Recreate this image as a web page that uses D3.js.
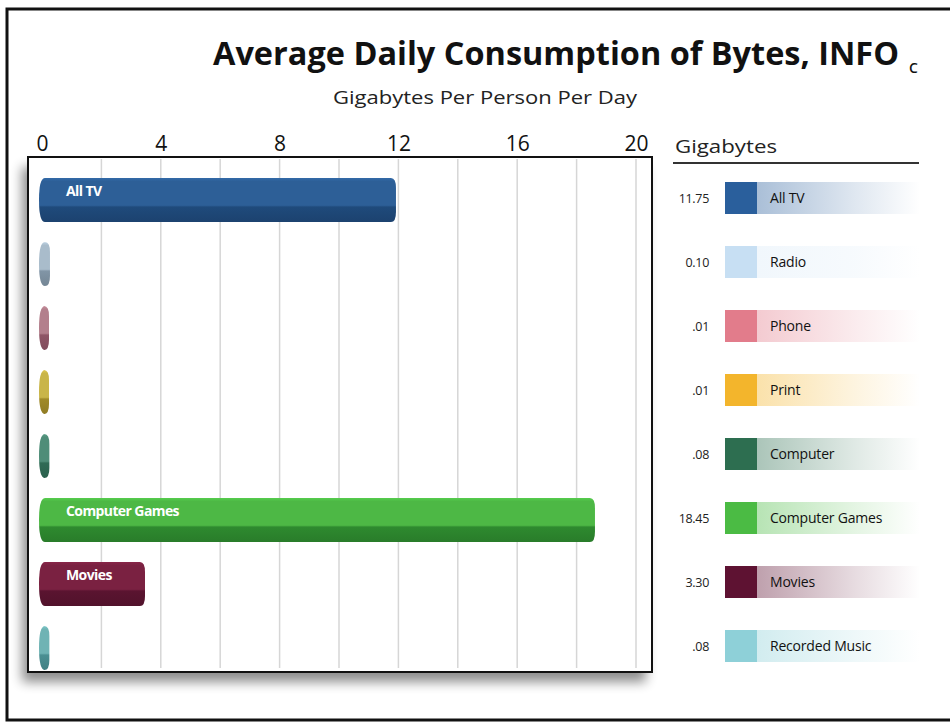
<!DOCTYPE html>
<html><head><meta charset="utf-8">
<script src="https://cdn.jsdelivr.net/npm/d3@7"></script>
<style>
html,body{margin:0;padding:0;background:#fff;}
svg{display:block;}
text{font-family:"Open Sans","Noto Sans",sans-serif;}
</style></head>
<body>
<script>
// ---- data ----
const categories = ["All TV","Radio","Phone","Print","Computer","Computer Games","Movies","Recorded Music"];
const values = [11.75, 0.10, 0.01, 0.01, 0.08, 18.45, 3.30, 0.08];
const valueLabels = ["11.75","0.10",".01",".01",".08","18.45","3.30",".08"];
const tickValues = [0,4,8,12,16,20];
const gridValues = [2,4,6,8,10,12,14,16,18,20];
const barLabels = ["All TV","","","","","Computer Games","Movies",""];
const swatchColors = ["#2a5f9c","#c7dff3","#e27c8b","#f3b52c","#2d6e50","#4bbb44","#5e1232","#8ed0d8"];
const barTop = ["#2d5f97","#a9bccb","#b37f8c","#c9b548","#4f8d78","#4db845","#7a2141","#6fb3b4"];
const barBottom = ["#1f4a7b","#8195a6","#8f5566","#a08a28","#2f6b55","#2e8a2f","#5a1430","#4a8f92"];

const W = 950, H = 725;
const svg = d3.select("body").append("svg").attr("width", W).attr("height", H);
const defs = svg.append("defs");

// outer frame
svg.append("rect").attr("x",7).attr("y",9).attr("width",980).attr("height",711)
  .attr("fill","#fff").attr("stroke","#111").attr("stroke-width",3);

// title
svg.append("text").attr("x",213).attr("y",65)
  .attr("font-size",32).attr("font-weight",700).attr("fill","#111")
  .attr("textLength",686).attr("lengthAdjust","spacingAndGlyphs")
  .text("Average Daily Consumption of Bytes, INFO");
svg.append("text").attr("x",909).attr("y",73).attr("font-size",14).attr("font-weight",600).attr("fill","#111").text("C");
svg.append("text").attr("x",333).attr("y",104)
  .attr("font-size",18).attr("fill","#222")
  .attr("textLength",304).attr("lengthAdjust","spacingAndGlyphs")
  .text("Gigabytes Per Person Per Day");

// scales
const x = d3.scaleLinear().domain([0,20]).range([42,636]);
const y = d3.scaleBand().domain(categories).range([168,680]).padding(0);
const box = {x0:28, y0:157, x1:652, y1:672};

// shadow filter
const f = defs.append("filter").attr("id","sh").attr("x","-10%").attr("y","-10%").attr("width","130%").attr("height","130%");
f.append("feGaussianBlur").attr("in","SourceAlpha").attr("stdDeviation",6);
f.append("feOffset").attr("dx",-6).attr("dy",10).attr("result","o");
f.append("feComponentTransfer").append("feFuncA").attr("type","linear").attr("slope",0.45);
const fm = f.append("feMerge"); fm.append("feMergeNode"); fm.append("feMergeNode").attr("in","SourceGraphic");

svg.append("rect").attr("x",box.x0).attr("y",box.y0).attr("width",box.x1-box.x0).attr("height",box.y1-box.y0)
  .attr("fill","#fff").attr("filter","url(#sh)");

// gridlines
svg.append("g").selectAll("line").data(gridValues).join("line")
  .attr("x1",d=>x(d)).attr("x2",d=>x(d)).attr("y1",box.y0+2).attr("y2",box.y1-4)
  .attr("stroke","#d6d6d6").attr("stroke-width",1.5);

svg.append("rect").attr("x",box.x0).attr("y",box.y0).attr("width",box.x1-box.x0).attr("height",box.y1-box.y0)
  .attr("fill","none").attr("stroke","#111").attr("stroke-width",2);

// axis
const ax = svg.append("g").attr("transform",`translate(0,${box.y0-4})`)
  .call(d3.axisTop(x).tickValues(tickValues).tickSize(0).tickPadding(2).tickFormat(d3.format("d")));
ax.select(".domain").remove();
ax.selectAll("text").attr("font-size",21).attr("fill","#111").attr("font-family","'Open Sans',sans-serif");

// bars
const bh = 44;
categories.forEach((c,i)=>{
  const gid = "bg"+i;
  const lg = defs.append("linearGradient").attr("id",gid).attr("x1",0).attr("y1",0).attr("x2",0).attr("y2",1);
  lg.append("stop").attr("offset","0%").attr("stop-color",d3.color(barTop[i]).brighter(0.3));
  lg.append("stop").attr("offset","8%").attr("stop-color",barTop[i]);
  lg.append("stop").attr("offset","62%").attr("stop-color",barTop[i]);
  lg.append("stop").attr("offset","66%").attr("stop-color",barBottom[i]);
  lg.append("stop").attr("offset","100%").attr("stop-color",d3.color(barBottom[i]).darker(0.3));
  const cy = y(c) + y.bandwidth()/2;
  const top = cy - bh/2;
  const x0 = x(0), x1 = Math.max(x(values[i]), x0+2);
  const rL = 3, rR = 5;
  const p = d3.path();
  p.moveTo(x0+rL, top);
  p.lineTo(x1, top);
  p.quadraticCurveTo(x1+rR, top, x1+rR, top+rR*2);
  p.lineTo(x1+rR, top+bh-rR*2);
  p.quadraticCurveTo(x1+rR, top+bh, x1, top+bh);
  p.lineTo(x0+rL, top+bh);
  p.quadraticCurveTo(x0-rL, top+bh, x0-rL, top+bh/2);
  p.quadraticCurveTo(x0-rL, top, x0+rL, top);
  p.closePath();
  svg.append("path").attr("d",p.toString()).attr("fill",`url(#${gid})`);
  if (barLabels[i]) {
    svg.append("text").attr("x",x0+24).attr("y",top+18)
      .attr("font-size",14).attr("font-weight",700).attr("fill","#fff")
      .attr("letter-spacing",-0.6).text(barLabels[i]);
  }
});

// legend
svg.append("text").attr("x",675).attr("y",153).attr("font-size",19).attr("fill","#222")
  .attr("textLength",102).attr("lengthAdjust","spacingAndGlyphs").text("Gigabytes");
svg.append("line").attr("x1",673).attr("x2",919).attr("y1",163).attr("y2",163).attr("stroke","#333").attr("stroke-width",2);

categories.forEach((c,i)=>{
  const cy = y(c) + y.bandwidth()/2 - 2;
  const gid = "lg"+i;
  const lg = defs.append("linearGradient").attr("id",gid).attr("x1",0).attr("y1",0).attr("x2",1).attr("y2",0);
  lg.append("stop").attr("offset","0%").attr("stop-color",swatchColors[i]).attr("stop-opacity",i===1?0.25:0.4);
  lg.append("stop").attr("offset","60%").attr("stop-color",swatchColors[i]).attr("stop-opacity",0.15);
  lg.append("stop").attr("offset","100%").attr("stop-color",swatchColors[i]).attr("stop-opacity",0);
  svg.append("rect").attr("x",757).attr("y",cy-16).attr("width",163).attr("height",32).attr("fill",`url(#${gid})`);
  svg.append("rect").attr("x",725).attr("y",cy-16).attr("width",32).attr("height",32).attr("fill",swatchColors[i]);
  svg.append("text").attr("x",709).attr("y",cy+5).attr("text-anchor","end")
    .attr("font-size",12.5).attr("fill","#222").attr("letter-spacing",-0.3).text(valueLabels[i]);
  svg.append("text").attr("x",770).attr("y",cy+5)
    .attr("font-size",14).attr("font-weight",500).attr("fill","#111").attr("letter-spacing",-0.2).text(c);
});
</script>
</body></html>
